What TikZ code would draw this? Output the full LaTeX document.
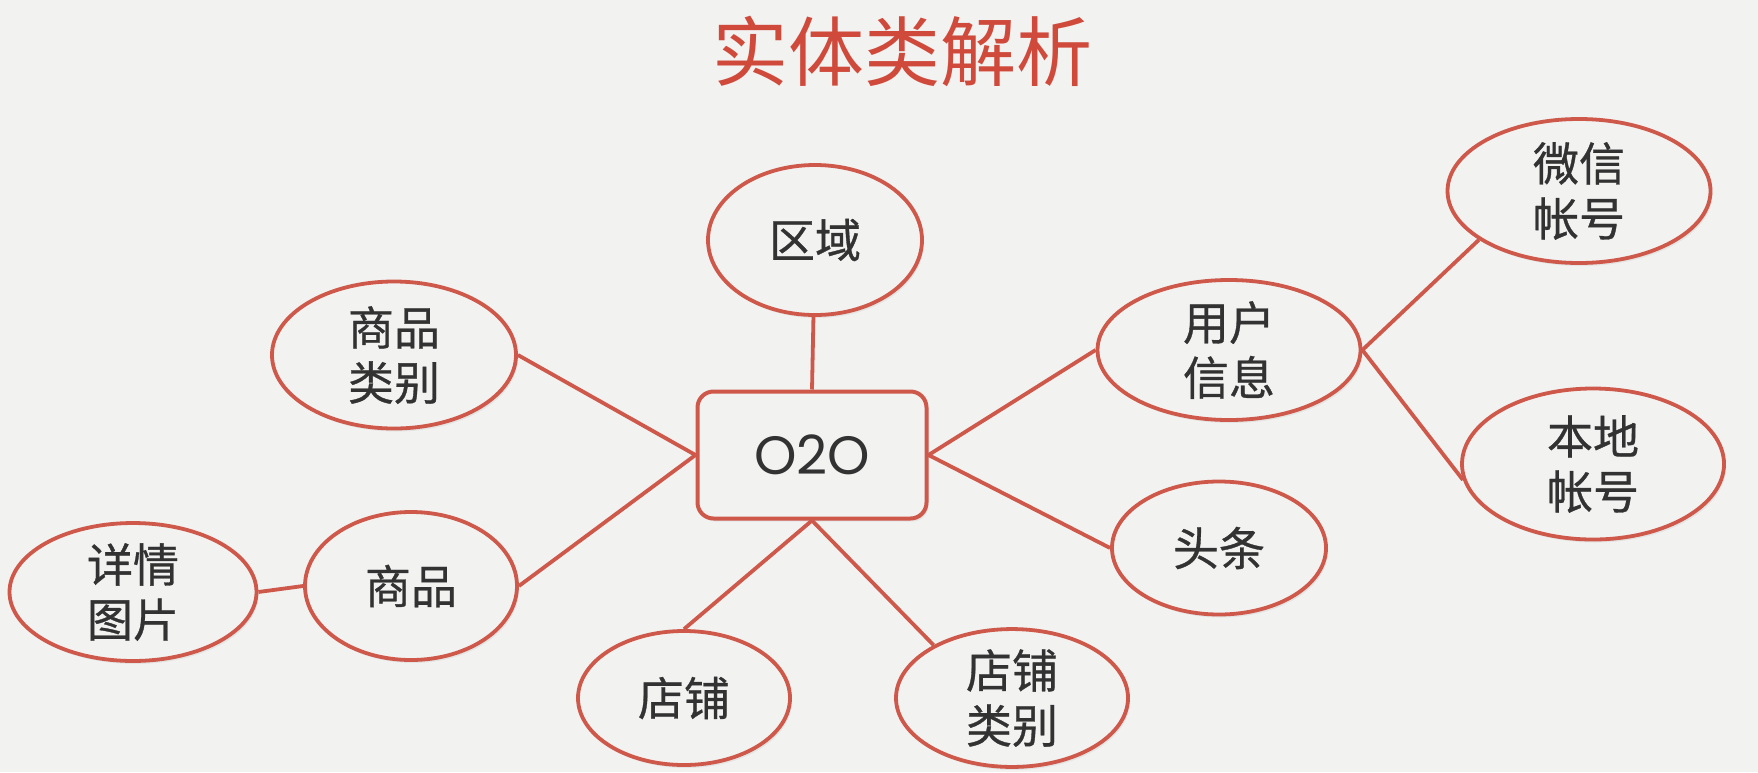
\documentclass[tikz,border=0pt]{standalone}
\usepackage{fontspec}
\setmainfont{Poppins}
\newfontfamily\cjk{Noto Sans CJK SC}
\newfontfamily\cjkb[FakeBold=0.7]{Noto Sans CJK SC}
\usetikzlibrary{shapes.geometric,shadows}
\definecolor{bg}{RGB}{242,242,241}
\definecolor{stroke}{RGB}{206,88,74}
\definecolor{titlered}{RGB}{208,74,60}
\definecolor{ink}{RGB}{50,50,50}
\begin{document}
\begin{tikzpicture}[x=1pt,y=-1pt,
  ent/.style={ellipse,draw=stroke,line width=3.8pt,fill=bg,inner sep=0pt,
    align=center,text=ink,font=\cjkb\fontsize{46}{55}\selectfont,
    drop shadow={shadow xshift=2pt,shadow yshift=-3pt,opacity=0.12}},
  hub/.style={rectangle,rounded corners=16pt,draw=stroke,line width=4pt,fill=bg,
    text=ink,font=\fontsize{54}{54}\selectfont,inner sep=0pt,
    drop shadow={shadow xshift=2pt,shadow yshift=-3pt,opacity=0.12}},
  link/.style={draw=stroke,line width=3.8pt}]
\fill[bg] (0,0) rectangle (1758,772);
\useasboundingbox (0,0) rectangle (1758,772);

\node[text=titlered,font=\cjk\fontsize{76}{76}\selectfont] (title) at (902,51) {实体类解析};

\node[hub,minimum width=229pt,minimum height=127pt] (o2o) at (812,455) {O2O};

\node[ent,minimum width=214pt,minimum height=150pt] (quyu) at (815,240) {区域};
\node[ent,minimum width=244pt,minimum height=147pt] (spcat) at (394,355) {商品\\类别};
\node[ent,minimum width=263pt,minimum height=140pt] (yonghu) at (1229,350) {用户\\信息};
\node[ent,minimum width=263pt,minimum height=144pt] (weixin) at (1579,191) {微信\\帐号};
\node[ent,minimum width=262pt,minimum height=151pt] (bendi) at (1593,464) {本地\\帐号};
\node[ent,minimum width=214pt,minimum height=133pt] (toutiao) at (1219,548) {头条};
\node[ent,minimum width=232pt,minimum height=133pt] (dpcat) at (1012,698) {店铺\\类别};
\node[ent,minimum width=212pt,minimum height=134pt] (dianpu) at (684,698) {店铺};
\node[ent,minimum width=212pt,minimum height=148pt] (shangpin) at (411,586) {商品};
\node[ent,minimum width=247pt,minimum height=131pt] (xiangqing) at (133,592) {详情\\图片};

\draw[link] (quyu) -- (o2o.north);
\draw[link] (spcat.east) -- (o2o.west);
\draw[link] (shangpin.east) -- (o2o.west);
\draw[link] (xiangqing.east) -- (shangpin.west);
\draw[link] (dianpu.north) -- (o2o.south);
\draw[link] (o2o.south) -- (dpcat.146);
\draw[link] (o2o.east) -- (yonghu.west);
\draw[link] (o2o.east) -- (toutiao.west);
\draw[link] (yonghu.east) -- (weixin.206);
\draw[link] (yonghu.east) -- (bendi.187);
\end{tikzpicture}
\end{document}
